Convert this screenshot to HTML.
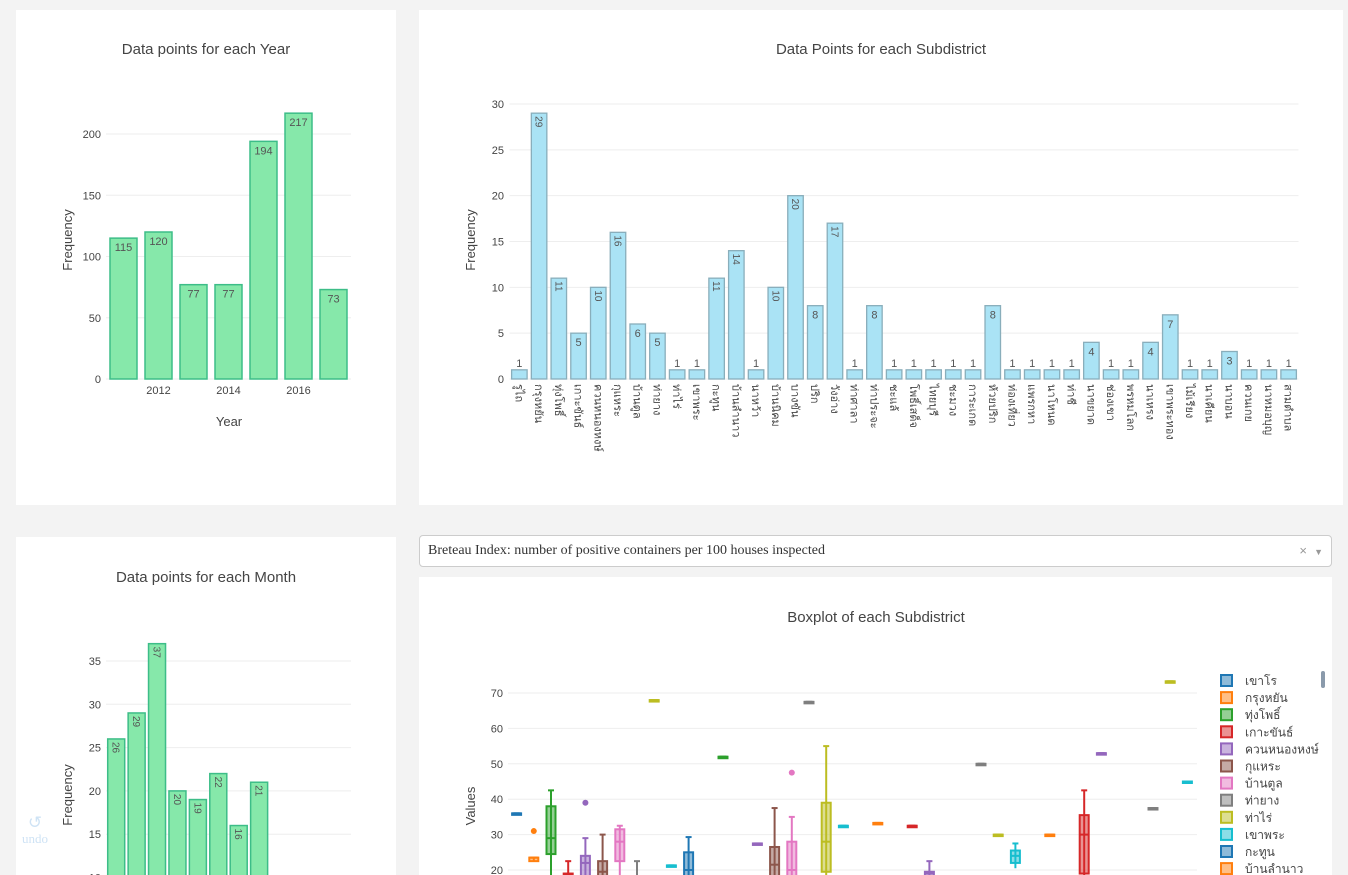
<!DOCTYPE html>
<html><head><meta charset="utf-8">
<style>
body{margin:0;width:1348px;height:875px;overflow:hidden;background:#f3f3f3;font-family:"Liberation Sans","Noto Sans CJK SC",sans-serif;position:relative}
.panel{position:absolute;background:#fff}
svg text{font-family:"Liberation Sans","Noto Sans CJK SC",sans-serif}
#dropdown{position:absolute;left:419px;top:535px;width:911px;height:30px;border:1px solid #ccc;border-radius:4px;background:#fff;font-family:"Liberation Serif",serif;font-size:14px;color:#333;line-height:30px;box-sizing:content-box}
</style></head><body>
<div class="panel" style="left:16px;top:10px;width:380px;height:495px"></div>
<div class="panel" style="left:419px;top:10px;width:924px;height:495px"></div>
<div class="panel" style="left:16px;top:537px;width:380px;height:338px"></div>
<div class="panel" style="left:419px;top:577px;width:913px;height:298px"></div>
<div id="dropdown">
 <span style="position:absolute;left:8px">Breteau Index: number of positive containers per 100 houses inspected</span>
 <span style="position:absolute;right:24px;color:#999;font-family:'Liberation Sans',sans-serif;font-size:13px">×</span>
 <span style="position:absolute;right:8px;top:1px;color:#999;font-size:9px">▼</span>
</div>
<svg id="svg" width="1348" height="875" style="position:absolute;left:0;top:0"></svg>
<div style="position:absolute;left:20px;top:815px;width:30px;text-align:center;color:#cfe3f5;font-family:'Liberation Serif',serif;font-size:13px;line-height:16px"><div style="font-size:17px">↺</div>undo</div>
<script>
// Year chart data
const years=[2011,2012,2013,2014,2015,2016,2017];
const yearCounts=[115,120,77,77,194,217,73];
const yearTicks=[0,50,100,150,200];
const yearXTicks=[2012,2014,2016];
// Subdistrict data
const subNames=["รูไถ","กรุงหยัน","ทุ่งโพธิ์","เกาะขันธ์","ควนหนองหงษ์","กุแหระ","บ้านตูล","ท่ายาง","ท่าไร่","เขาพระ","กะทูน","บ้านลำนาว","นาหว้า","บ้านนิคม","บางขัน","ปริก","วังอ่าง","ท่าศาลา","ท่าประจะ","ชะแล้","โพธิ์เสด็จ","ไทยบุรี","ชะมวง","การะเกด","ห้วยปริก","ท่องเที่ยว","แพรกหา","นาโหนด","ท่าชี","นาขยาด","ช่องเขา","พรหมโลก","นาเหรง","เขาพระทอง","ไม้เรียง","นาเคียน","นาบอน","ควนเกย","นาหมอบุญ","สามตำบล"];
const subCounts=[1,29,11,5,10,16,6,5,1,1,11,14,1,10,20,8,17,1,8,1,1,1,1,1,8,1,1,1,1,4,1,1,4,7,1,1,3,1,1,1];
const subTicks=[0,5,10,15,20,25,30];
// Month data
const months=[1,2,3,4,5,6,7,8];
const monthCounts=[26,29,37,20,19,22,16,21];
const monthTicks=[10,15,20,25,30,35];
// Boxplot data: category index, low whisker, q1, median, q3, high whisker, outliers
const boxCat=[0,1,2,3,4,5,6,7,8,9,10,12,14,15,16,17,18,19,21,23,24,27,28,29,31,33,34,37,38,39];
const boxLo=[36,22.5,15,17,16,16,15,15,68,21.3,16,52,27.5,15,15,67.5,18,32.5,33.3,32.5,17,50,30,20.5,30,15,53,37.5,73.3,45];
const boxQ1=[36,22.5,24.5,17.5,18,17,22.5,15,68,21.3,18,52,27.5,16,16,67.5,19.5,32.5,33.3,32.5,18,50,30,22,30,19,53,37.5,73.3,45];
const boxMed=[36,23.5,29,18.5,22,19.5,28,17,68,21.3,20,52,27.5,21.5,20,67.5,28,32.5,33.3,32.5,19,50,30,24,30,30,53,37.5,73.3,45];
const boxQ3=[36,23.5,38,19,24,22.5,31.5,18,68,21.3,25,52,27.5,26.5,28,67.5,39,32.5,33.3,32.5,19.5,50,30,25.5,30,35.5,53,37.5,73.3,45];
const boxHi=[36,23.5,42.5,22.5,29,30,32.5,22.5,68,21.3,29.3,52,27.5,37.5,35,67.5,55,32.5,33.3,32.5,22.5,50,30,27.5,30,42.5,53,37.5,73.3,45];
const boxOut=[[],[31],[],[],[39],[],[],[],[],[],[],[],[],[],[47.5],[],[],[],[],[],[],[],[],[],[],[],[],[],[],[]];
const boxTicks=[20,30,40,50,60,70];
const legendNames=["เขาโร","กรุงหยัน","ทุ่งโพธิ์","เกาะขันธ์","ควนหนองหงษ์","กุแหระ","บ้านตูล","ท่ายาง","ท่าไร่","เขาพระ","กะทูน","บ้านลำนาว"];
const palette=["#1f77b4","#ff7f0e","#2ca02c","#d62728","#9467bd","#8c564b","#e377c2","#7f7f7f","#bcbd22","#17becf"];

const svg=document.getElementById('svg');
const NS="http://www.w3.org/2000/svg";
function el(tag,attrs,parent){const e=document.createElementNS(NS,tag);for(const k in attrs)e.setAttribute(k,attrs[k]);(parent||svg).appendChild(e);return e;}
function txt(s,attrs,parent){const e=el('text',attrs,parent);e.textContent=s;return e;}

function title(s,x,y,name){const t=txt(s,{x:x,y:y,'text-anchor':'middle','font-size':15,fill:'#444'});

}
function ytitle(s,x,y,name){const t=txt(s,{x:0,y:0,'text-anchor':'middle','font-size':13,fill:'#444',transform:`translate(${x},${y}) rotate(-90)`});

}
function grid(ticks,yf,x0,x1,labx,name){ticks.forEach(v=>{const y=yf(v);
 const l=el('line',{x1:x0,x2:x1,y1:y,y2:y,stroke:'#eee','stroke-width':1});
 
 
 const t=txt(v,{x:labx,y:y+4,'text-anchor':'end','font-size':11,fill:'#444'});
 
 });}

// ---- Year chart
{const X0=106,X1=351,Y0=379,k=245/200;
 const xf=v=>X0+(v-2010.5)*(X1-X0)/7, yf=v=>Y0-v*k;
 title('Data points for each Year',206,54,'year-chart-title');
 grid(yearTicks,yf,X0,X1,101,'year-y');
 years.forEach((yr,i)=>{const w=27,cx=xf(yr),y=yf(yearCounts[i]);
  const r=el('rect',{x:cx-w/2,y:y,width:w,height:Y0-y,fill:'#86e8aa',stroke:'#3dbd88','stroke-width':1.5});
  
  
  const t=txt(yearCounts[i],{x:cx,y:y+13,'text-anchor':'middle','font-size':11,fill:'#555'});
  
  });
 yearXTicks.forEach(v=>{const t=txt(v,{x:xf(v),y:394,'text-anchor':'middle','font-size':11,fill:'#444'});
  
  });
 const xt=txt('Year',{x:229,y:426,'text-anchor':'middle','font-size':13,fill:'#444'});
 
 
 ytitle('Frequency',72,240,'year-y-axis-title');}

// ---- Subdistrict chart
{const X0=509.5,X1=1298.5,Y0=379,k=275/30,n=subCounts.length,step=(X1-X0)/n;
 const xf=i=>X0+(i+0.5)*step, yf=v=>Y0-v*k;
 title('Data Points for each Subdistrict',881,54,'subdistrict-chart-title');
 grid(subTicks,yf,X0,X1,504,'subdistrict-y');
 subCounts.forEach((v,i)=>{const w=15.5,cx=xf(i),y=yf(v);
  const r=el('rect',{x:cx-w/2,y:y,width:w,height:Y0-y,fill:'#aae3f5',stroke:'#89aebb','stroke-width':1.3});
  
  
  let t;
  if(v>=10){t=txt(v,{x:0,y:0,'font-size':10,fill:'#555',transform:`translate(${cx-3.5},${y+3}) rotate(90)`});}
  else{t=txt(v,{x:cx,y:y-(v<=1?3:-12),'text-anchor':'middle','font-size':11,fill:'#555'});
   if(v>=3){t.setAttribute('y',y+13);}}
  
  
  const lb=txt(subNames[i],{x:0,y:0,'font-size':11,fill:'#444',transform:`translate(${cx-4},${384}) rotate(90)`});
  
  });
 ytitle('Frequency',475,240,'subdistrict-y-axis-title');}

// ---- Month chart
{const X0=106,X1=351,k=8.66,Yref=661;
 const xf=m=>X0+(m-0.5)*(X1-X0)/12, yf=v=>Yref+(35-v)*k;
 title('Data points for each Month',206,582,'month-chart-title');
 grid(monthTicks,yf,X0,X1,101,'month-y');
 months.forEach((m,i)=>{const w=17,cx=xf(m),y=yf(monthCounts[i]);
  const r=el('rect',{x:cx-w/2,y:y,width:w,height:900-y,fill:'#86e8aa',stroke:'#3dbd88','stroke-width':1.5});
  
  
  const t=txt(monthCounts[i],{x:0,y:0,'font-size':10,fill:'#555',transform:`translate(${cx-3.5},${y+3}) rotate(90)`});
  
  });
 ytitle('Frequency',72,795,'month-y-axis-title');}

// ---- Boxplot
{const X0=508,step=17.2,k=3.54,Yref=693;
 const xf=c=>X0+(c+0.5)*step, yf=v=>Yref+(70-v)*k;
 title('Boxplot of each Subdistrict',876,622,'boxplot-title');
 grid(boxTicks,yf,X0,1197,503,'boxplot-y');
 boxCat.forEach((c,i)=>{const col=palette[c%10],cx=xf(c),w=9;
  const g=el('g',{});
  
  
  el('line',{x1:cx,x2:cx,y1:yf(boxHi[i]),y2:yf(boxLo[i]),stroke:col,'stroke-width':2},g);
  el('line',{x1:cx-3,x2:cx+3,y1:yf(boxHi[i]),y2:yf(boxHi[i]),stroke:col,'stroke-width':2},g);
  const h=Math.max(yf(boxQ1[i])-yf(boxQ3[i]),1.5);
  el('rect',{x:cx-w/2,y:yf(boxQ3[i]),width:w,height:h,fill:col,'fill-opacity':0.5,stroke:col,'stroke-width':2},g);
  el('line',{x1:cx-w/2,x2:cx+w/2,y1:yf(boxMed[i]),y2:yf(boxMed[i]),stroke:col,'stroke-width':2},g);
  boxOut[i].forEach(o=>el('circle',{cx:cx,cy:yf(o),r:3,fill:col},g));});
 ytitle('Values',475,806,'boxplot-y-axis-title');
 legendNames.forEach((nm,i)=>{const y=680+i*17.1,col=palette[i%10];
  const g=el('g',{});
  
  
  el('rect',{x:1221,y:y-5,width:11,height:11,fill:col,'fill-opacity':0.5,stroke:col,'stroke-width':2},g);
  txt(nm,{x:1245,y:y+5,'font-size':12,fill:'#444'},g);});
 const sb=el('rect',{x:1321,y:671,width:4,height:17,rx:2,fill:'#8a9aab'});
 
 }
</script>
</body></html>
